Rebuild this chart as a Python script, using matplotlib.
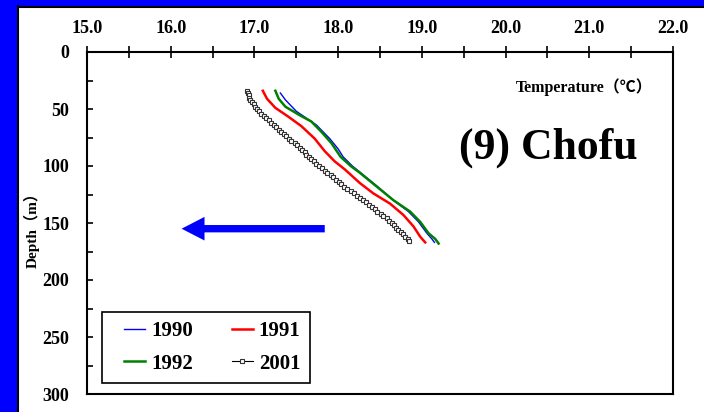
import matplotlib.pyplot as plt
from matplotlib.patches import Rectangle, FancyArrowPatch, ArrowStyle
from matplotlib.ticker import MultipleLocator, FormatStrFormatter
from matplotlib.legend_handler import HandlerLine2D

# temperature profiles, depth (m) vs temperature (deg C)
depth_1990 = [36, 42, 52, 58, 64, 76, 85, 92, 100, 106, 118, 130, 140, 149, 159, 164, 167]
temp_1990 = [17.31, 17.37, 17.50, 17.62, 17.74, 17.90, 18.00, 18.06, 18.17, 18.27, 18.47,
             18.66, 18.84, 18.96, 19.06, 19.12, 19.15]

depth_1991 = [34, 41, 49, 57, 65, 76, 87, 96, 103, 115, 124, 133, 143, 153, 162, 167]
temp_1991 = [17.10, 17.15, 17.25, 17.41, 17.56, 17.72, 17.84, 17.96, 18.08, 18.26, 18.42,
             18.62, 18.78, 18.90, 18.98, 19.04]

depth_1992 = [34, 41, 48, 55, 61, 70, 80, 92, 100, 106, 118, 130, 140, 149, 159, 164, 168]
temp_1992 = [17.25, 17.29, 17.37, 17.53, 17.68, 17.80, 17.92, 18.03, 18.15, 18.26, 18.46,
             18.66, 18.86, 18.98, 19.08, 19.16, 19.20]

depth_2001 = [34, 36, 38, 40, 42, 44, 46, 48, 50, 52, 54, 56, 58, 60, 62, 64, 66, 68, 70,
              72, 74, 76, 78, 80, 82, 84, 86, 88, 90, 92, 94, 96, 98, 100, 102, 104, 106,
              108, 110, 112, 114, 116, 118, 120, 122, 124, 126, 128, 130, 132, 134, 136,
              138, 140, 142, 144, 146, 148, 150, 152, 154, 156, 158, 160, 162, 164, 166]
temp_2001 = [16.91, 16.92, 16.93, 16.94, 16.95, 16.97, 16.99, 17.01, 17.03, 17.05, 17.08,
             17.11, 17.14, 17.17, 17.20, 17.23, 17.26, 17.29, 17.32, 17.35, 17.38, 17.41,
             17.44, 17.48, 17.51, 17.54, 17.57, 17.60, 17.62, 17.65, 17.68, 17.71, 17.74,
             17.77, 17.81, 17.84, 17.87, 17.91, 17.94, 17.98, 18.01, 18.04, 18.07, 18.11,
             18.15, 18.19, 18.22, 18.26, 18.30, 18.33, 18.37, 18.40, 18.44, 18.47, 18.51,
             18.54, 18.58, 18.61, 18.64, 18.67, 18.69, 18.72, 18.75, 18.77, 18.80, 18.83, 18.85]

# warming direction arrow (temperature from/to, depth)
arrow_from, arrow_to, arrow_depth = 17.84, 16.13, 155

plt.rcParams['font.family'] = ['Liberation Serif', 'Noto Sans CJK JP']
plt.rcParams['font.weight'] = 'bold'

fig = plt.figure(figsize=(7.04, 4.12), dpi=100)
fig.patch.set_facecolor('white')

# blue frame on the left and top
fig.patches.append(Rectangle((0, 0), 17 / 704, 1, transform=fig.transFigure,
                             facecolor='#0000ff', edgecolor='none', zorder=0))
fig.patches.append(Rectangle((0, 1 - 6 / 412), 1, 6 / 412, transform=fig.transFigure,
                             facecolor='#0000ff', edgecolor='none', zorder=0))
fig.add_artist(plt.Line2D([17.5 / 704, 17.5 / 704], [0, 1 - 6 / 412], transform=fig.transFigure,
                          color='black', lw=1.5))
fig.add_artist(plt.Line2D([17.5 / 704, 1], [1 - 6.5 / 412, 1 - 6.5 / 412], transform=fig.transFigure,
                          color='black', lw=1.5))

ax = fig.add_axes([87 / 704, 1 - 394 / 412, 586 / 704, 342 / 412])

l90, = ax.plot(temp_1990, depth_1990, color='#0000ff', lw=1.0, label='1990')
l91, = ax.plot(temp_1991, depth_1991, color='#ff0000', lw=1.8, label='1991')
l92, = ax.plot(temp_1992, depth_1992, color='#008000', lw=1.8, label='1992')
l01, = ax.plot(temp_2001, depth_2001, color='black', lw=0.8, marker='s', ms=3.5,
               mfc='white', mec='#333333', mew=0.8, label='2001')

ax.set_xlim(15, 22)
ax.set_ylim(300, 0)

ax.xaxis.tick_top()
ax.xaxis.set_major_locator(MultipleLocator(1))
ax.xaxis.set_minor_locator(MultipleLocator(0.5))
ax.xaxis.set_major_formatter(FormatStrFormatter('%.1f'))
ax.yaxis.set_major_locator(MultipleLocator(50))
ax.yaxis.set_minor_locator(MultipleLocator(25))
ax.tick_params(axis='x', which='both', direction='inout', length=8, width=1.2,
               labelsize=13, pad=7)
ax.tick_params(axis='y', which='both', direction='in', length=4, width=1.2,
               labelsize=13, pad=13)
for lab in ax.get_xticklabels() + ax.get_yticklabels():
    lab.set_fontweight('bold')
for sp in ax.spines.values():
    sp.set_linewidth(1.5)

fig.text(32 / 704, 1 - 226 / 412, 'Depth（m）', rotation=90, ha='center', va='center',
         fontsize=11, fontweight='bold')

ax.text(0.848, 0.898, 'Temperature（℃）', transform=ax.transAxes, ha='center', va='center',
        fontsize=11.5, fontweight='bold')
ax.text(0.787, 0.719, '(9) Chofu', transform=ax.transAxes, ha='center', va='center',
        fontsize=31.5, fontweight='bold', family='Liberation Serif')

arrow = FancyArrowPatch((arrow_from, arrow_depth), (arrow_to, arrow_depth),
                        arrowstyle=ArrowStyle.Simple(head_length=16.5, head_width=17, tail_width=5.3),
                        mutation_scale=1, color='#0000ff', shrinkA=0, shrinkB=0, lw=0)
ax.add_patch(arrow)

# rows: 1990 1991 / 1992 2001 (legend fills column-wise)
handler = HandlerLine2D(xpad=0.6)
leg = ax.legend([l90, l92, l91, l01], ['1990', '1992', '1991', '2001'], ncol=2,
                loc='lower left', bbox_to_anchor=(0.0256, 0.032), borderaxespad=0,
                handlelength=1.6, handletextpad=0.3, columnspacing=1.27,
                labelspacing=0.6, borderpad=0.45, fancybox=False, edgecolor='black',
                framealpha=1, prop={'weight': 'bold', 'size': 15},
                handler_map={l90: handler, l91: handler, l92: handler, l01: handler})
leg.get_frame().set_linewidth(1.2)

fig.savefig('out.png', dpi=100)
